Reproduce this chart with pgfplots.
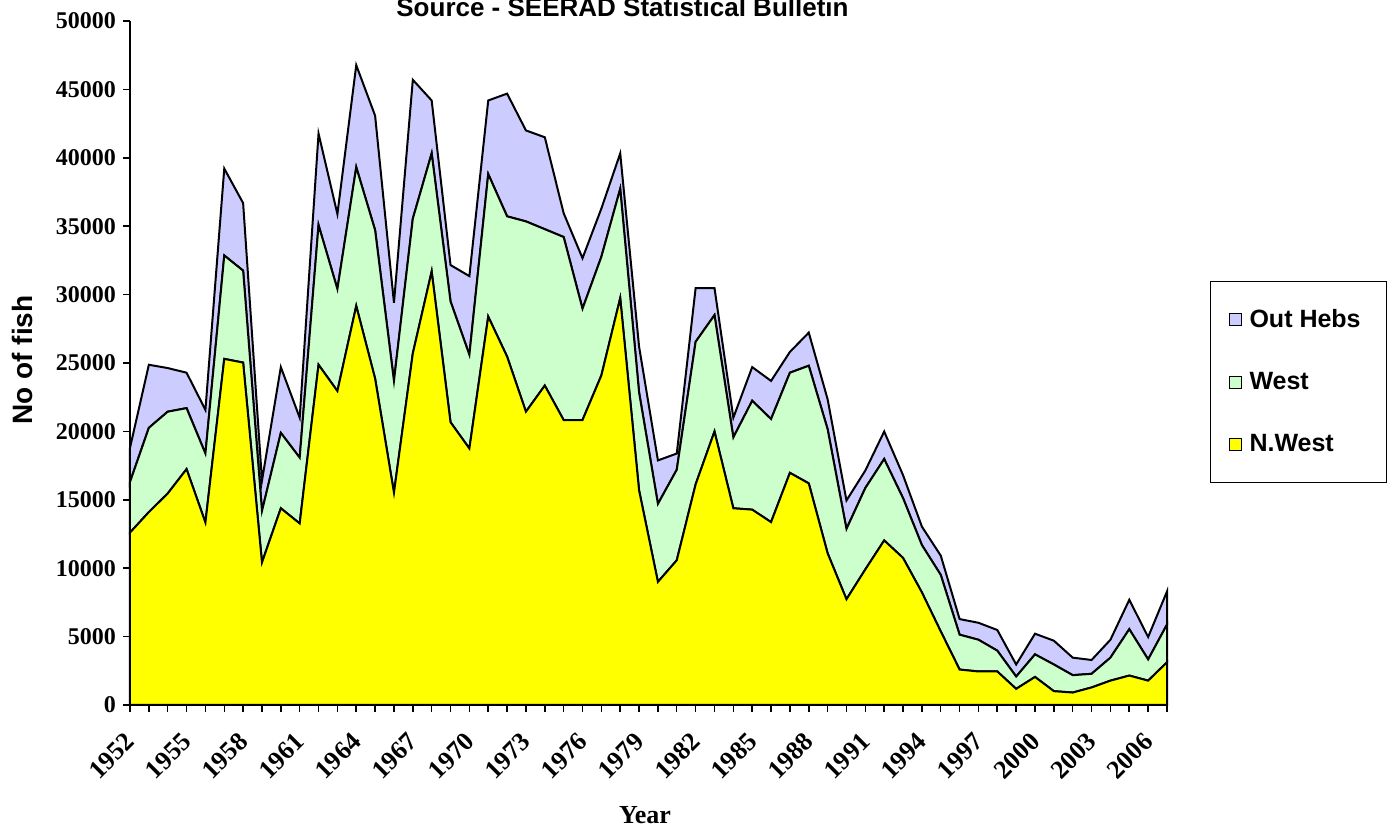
\documentclass[border=0pt]{standalone}
\usepackage{pgfplots}
\pgfplotsset{compat=1.18}
\usepackage{pgfplotstable}
\usepackage{fontspec}
\setmainfont{Liberation Serif}
\setsansfont{Liberation Sans}
\definecolor{nwcol}{HTML}{FFFF00}
\definecolor{wcol}{HTML}{CCFFCC}
\definecolor{ohcol}{HTML}{CCCCFF}
\pgfplotstableread{
year nw west oh
1952 12600 3700 2500
1953 14100 6160 4610
1954 15460 5980 3190
1955 17240 4460 2590
1956 13340 5040 3190
1957 25300 7560 6350
1958 25030 6720 4940
1959 10420 3760 2220
1960 14380 5510 4810
1961 13270 4810 2920
1962 24870 10210 6690
1963 22950 7460 5480
1964 29170 10140 7460
1965 23860 10850 8370
1966 15520 8170 5710
1967 25700 9850 10150
1968 31690 8630 3870
1969 20670 8830 2660
1970 18750 6850 5750
1971 28390 10420 5380
1972 25470 10250 8970
1973 21440 13910 6650
1974 23350 11430 6720
1975 20830 13380 1740
1976 20830 8140 3690
1977 24090 8670 3530
1978 29740 7990 2590
1979 15690 7160 3350
1980 9000 5700 3180
1981 10580 6620 1180
1982 16130 10420 3930
1983 19990 8510 1980
1984 14380 5180 1440
1985 14280 7960 2460
1986 13370 7530 2790
1987 16970 7320 1520
1988 16200 8600 2420
1989 11090 9070 2190
1990 7730 5140 2080
1991 9910 5950 1280
1992 12030 5950 2010
1993 10750 4370 1680
1994 8230 3460 1350
1995 5380 4130 1410
1996 2590 2550 1140
1997 2450 2320 1240
1998 2450 1520 1510
1999 1180 900 880
2000 2050 1650 1510
2001 1010 1950 1740
2002 910 1270 1280
2003 1280 1000 1010
2004 1780 1680 1310
2005 2150 3390 2150
2006 1780 1550 1640
2007 3120 2760 2420
}\datatable
\begin{document}
\begin{tikzpicture}
\path[use as bounding box] (0,0) rectangle (696pt,414pt);
\begin{axis}[
  at={(65pt,61.5pt)}, anchor=south west,
  scale only axis, width=518.5pt, height=342pt,
  xmin=1952, xmax=2007, ymin=0, ymax=50000,
  axis lines*=left,
  axis line style={line width=1pt},
  axis on top,
  clip=false,
  stack plots=y,
  scaled ticks=false,
  xtick={1952,1955,...,2006},
  minor xtick={1952,...,2007},
  ytick={0,5000,...,50000},
  tick align=outside,
  major tick length=3.5pt, minor tick length=3.5pt,
  tick style={black, line width=0.75pt},
  xticklabel shift=8pt,
  xticklabel style={xshift=-3pt, rotate=45, anchor=north east, inner sep=1pt, font=\bfseries\fontsize{13}{13}\selectfont},
  yticklabel style={font=\bfseries\fontsize{12}{12}\selectfont},
  /pgf/number format/1000 sep={},
  /pgf/number format/assume math mode=true,
  legend style={at={(1.0415,0.472)}, anchor=west, draw=black, line width=0.5pt,
    font=\sffamily\bfseries\fontsize{12.5}{13}\selectfont,
    row sep=17pt, inner xsep=9pt, inner ysep=12pt,
    nodes={inner xsep=4pt}},
  reverse legend,
  legend cell align=left,
  legend image code/.code={\draw[#1, draw=black, line width=0.5pt] (0pt,-3pt) rectangle (6pt,3pt);},
]
\addplot[fill=nwcol, draw=black, line width=1pt] table[x=year,y=nw]{\datatable} \closedcycle;
\addlegendentry{N.West}
\addplot[fill=wcol, draw=black, line width=1pt] table[x=year,y=west]{\datatable} \closedcycle;
\addlegendentry{West}
\addplot[fill=ohcol, draw=black, line width=1pt] table[x=year,y=oh]{\datatable} \closedcycle;
\addlegendentry{Out Hebs}
\end{axis}
\node[anchor=base, font=\sffamily\bfseries\fontsize{13}{13}\selectfont] at (311.25pt,405.75pt) {Source - SEERAD Statistical Bulletin};
\node[rotate=90, font=\sffamily\bfseries\fontsize{14}{14}\selectfont] at (11pt,234pt) {No of fish};
\node[font=\bfseries\fontsize{13}{13}\selectfont] at (322.5pt,6.5pt) {Year};
\end{tikzpicture}
\end{document}
